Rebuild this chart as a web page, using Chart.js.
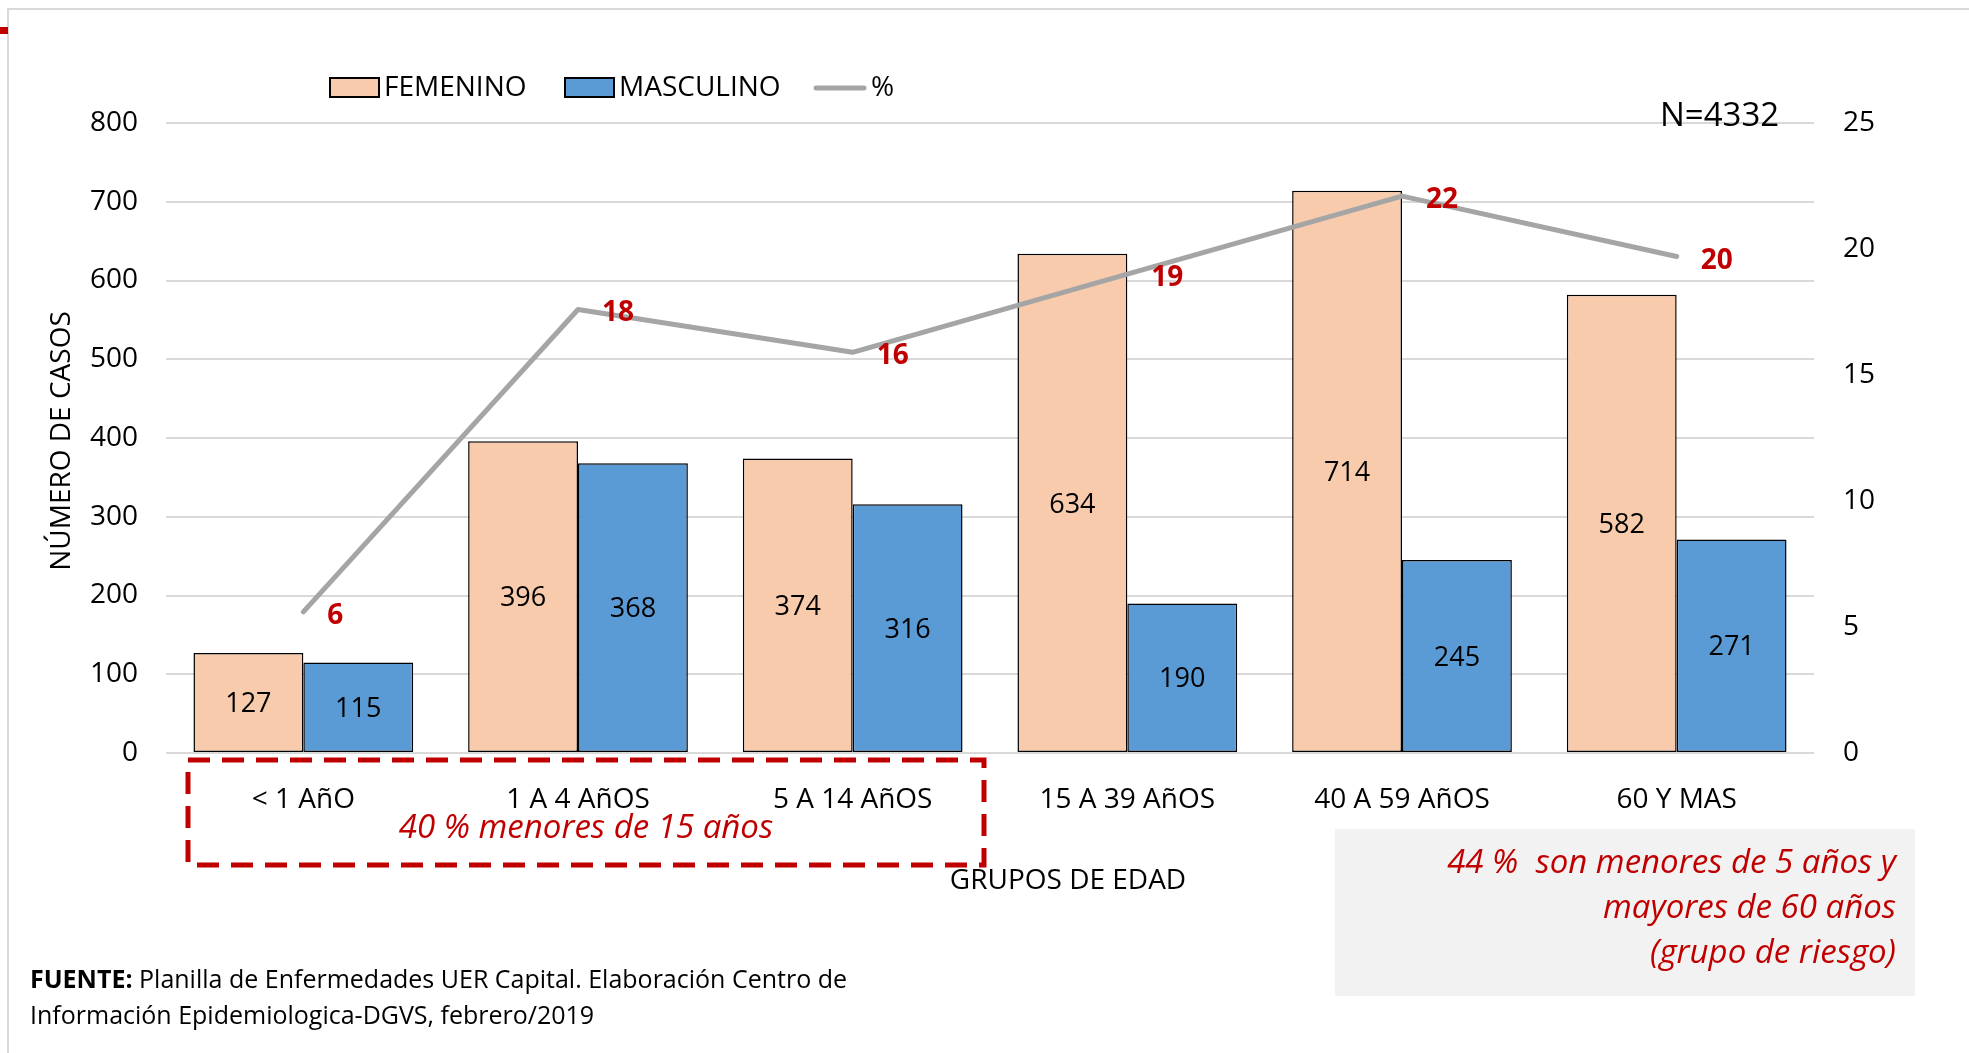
<!DOCTYPE html>
<html><head><meta charset="utf-8">
<script src="https://cdn.jsdelivr.net/npm/chart.js@4.4.0/dist/chart.umd.min.js"></script>
<style>html,body{margin:0;padding:0;background:#fff;overflow:hidden}#wrap{position:relative;width:1969px;height:1053px}</style>
</head><body><div id="wrap"><canvas id="c" width="1969" height="1053"></canvas></div>
<script>
const categories = ['< 1 AñO', '1 A 4 AñOS', '5 A 14 AñOS', '15 A 39 AñOS', '40 A 59 AñOS', '60 Y MAS'];
const femenino = [127, 396, 374, 634, 714, 582];
const masculino = [115, 368, 316, 190, 245, 271];
const porcentaje = [5.6, 17.6, 15.9, 19.0, 22.1, 19.7];
const porcentajeLabels = ['6', '18', '16', '19', '22', '20'];
const leftTicks = [0, 100, 200, 300, 400, 500, 600, 700, 800];
const rightTicks = [0, 5, 10, 15, 20, 25];

const FONT = "'Open Sans', 'Noto Sans', sans-serif";
const RED = '#C00000';

const overlay = {
  id: 'overlay',
  afterDatasetsDraw(chart) {
    const ctx = chart.ctx;
    ctx.save();
    [0, 1].forEach(di => {
      const meta = chart.getDatasetMeta(di);
      meta.data.forEach((el, i) => {
        ctx.font = '27px ' + FONT;
        ctx.fillStyle = '#000';
        ctx.textAlign = 'center';
        ctx.textBaseline = 'middle';
        ctx.fillText(String(chart.data.datasets[di].data[i]), el.x, (el.y + el.base) / 2 + 2);
      });
    });
    const lm = chart.getDatasetMeta(2);
    lm.data.forEach((el, i) => {
      ctx.font = 'bold 28px ' + FONT;
      ctx.fillStyle = RED;
      ctx.textAlign = 'left';
      ctx.textBaseline = 'middle';
      ctx.fillText(porcentajeLabels[i], el.x + 24, el.y + 4);
    });
    ctx.restore();
  },
  afterDraw(chart) {
    const ctx = chart.ctx;
    ctx.save();
    ctx.strokeStyle = '#D9D9D9';
    ctx.lineWidth = 2;
    ctx.beginPath();
    ctx.moveTo(8, 1053); ctx.lineTo(8, 9); ctx.lineTo(1969, 9);
    ctx.stroke();
    ctx.fillStyle = RED;
    ctx.fillRect(0, 27, 8, 7);

    // legend
    ctx.textBaseline = 'middle';
    ctx.textAlign = 'left';
    ctx.font = '28px ' + FONT;
    ctx.lineWidth = 2;
    ctx.strokeStyle = '#000';
    ctx.fillStyle = '#F8CBAD';
    ctx.fillRect(330, 78, 49, 19); ctx.strokeRect(330, 78, 49, 19);
    ctx.fillStyle = '#000';
    ctx.fillText('FEMENINO', 384, 88);
    ctx.fillStyle = '#5B9BD5';
    ctx.fillRect(565, 78, 49, 19); ctx.strokeRect(565, 78, 49, 19);
    ctx.fillStyle = '#000';
    ctx.fillText('MASCULINO', 619, 88);
    ctx.strokeStyle = '#A5A5A5';
    ctx.lineWidth = 5;
    ctx.lineCap = 'round';
    ctx.beginPath(); ctx.moveTo(816, 88); ctx.lineTo(864, 88); ctx.stroke();
    ctx.fillStyle = '#000';
    ctx.fillText('%', 871, 88);

    // N
    ctx.font = '33px ' + FONT;
    ctx.textAlign = 'left';
    ctx.fillText('N=4332', 1660, 117);

    // y title
    ctx.save();
    ctx.translate(62, 441);
    ctx.rotate(-Math.PI / 2);
    ctx.textAlign = 'center';
    ctx.font = '28px ' + FONT;
    ctx.fillText('NÚMERO DE CASOS', 0, 0);
    ctx.restore();

    // x title
    ctx.textAlign = 'center';
    ctx.font = '28px ' + FONT;
    ctx.fillText('GRUPOS DE EDAD', 1068, 881);

    // dashed box
    ctx.strokeStyle = RED;
    ctx.lineWidth = 5;
    ctx.lineCap = 'butt';
    ctx.setLineDash([22, 12]);
    ctx.strokeRect(188, 760, 796, 105);
    ctx.setLineDash([]);
    ctx.fillStyle = RED;
    ctx.font = 'italic 33px ' + FONT;
    ctx.textAlign = 'center';
    ctx.fillText('40 % menores de 15 años', 586, 829);

    // gray box
    ctx.fillStyle = '#F2F2F2';
    ctx.fillRect(1335, 829, 580, 167);
    ctx.fillStyle = RED;
    ctx.font = 'italic 33px ' + FONT;
    ctx.textAlign = 'right';
    ctx.fillText('44 %  son menores de 5 años y', 1896, 864);
    ctx.fillText('mayores de 60 años', 1896, 909);
    ctx.fillText('(grupo de riesgo)', 1896, 954);

    // source
    ctx.textAlign = 'left';
    ctx.fillStyle = '#000';
    ctx.font = 'bold 25px ' + FONT;
    ctx.fillText('FUENTE:', 30, 981);
    const w = ctx.measureText('FUENTE:').width;
    ctx.font = '25px ' + FONT;
    ctx.fillText(' Planilla de Enfermedades UER Capital. Elaboración Centro de', 30 + w, 981);
    ctx.fillText('Información Epidemiologica-DGVS, febrero/2019', 30, 1017);
    ctx.restore();
  }
};

new Chart(document.getElementById('c'), {
  data: {
    labels: categories,
    datasets: [
      { type: 'bar', label: 'FEMENINO', data: femenino, backgroundColor: '#F8CBAD', borderColor: '#000', borderWidth: 1.5, borderSkipped: false, categoryPercentage: 0.8, barPercentage: 1.0, yAxisID: 'y', order: 2 },
      { type: 'bar', label: 'MASCULINO', data: masculino, backgroundColor: '#5B9BD5', borderColor: '#000', borderWidth: 1.5, borderSkipped: false, categoryPercentage: 0.8, barPercentage: 1.0, yAxisID: 'y', order: 2 },
      { type: 'line', label: '%', data: porcentaje, borderColor: '#A5A5A5', borderWidth: 5, pointRadius: 0, tension: 0, borderCapStyle: 'round', borderJoinStyle: 'round', yAxisID: 'y1', order: 0 }
    ]
  },
  options: {
    responsive: false,
    animation: false,
    devicePixelRatio: 1,
    layout: { padding: { top: 123, left: 0, right: 0, bottom: 0 } },
    plugins: { legend: { display: false }, tooltip: { enabled: false } },
    scales: {
      x: {
        grid: { display: false },
        border: { display: false },
        ticks: { color: '#000', font: { size: 28, family: FONT }, padding: 22, maxRotation: 0, autoSkip: false },
        afterFit(s) { s.height = 300; }
      },
      y: {
        position: 'left', min: 0, max: 800,
        afterBuildTicks(s) { s.ticks = leftTicks.map(v => ({ value: v })); },
        grid: { color: '#D9D9D9', lineWidth: 2, drawTicks: false },
        border: { display: false },
        ticks: { color: '#000', font: { size: 28, family: FONT }, padding: 28 },
        afterFit(s) { s.width = 166; }
      },
      y1: {
        position: 'right', min: 0, max: 25,
        afterBuildTicks(s) { s.ticks = rightTicks.map(v => ({ value: v })); },
        grid: { display: false, drawTicks: false },
        border: { display: false },
        ticks: { color: '#000', font: { size: 28, family: FONT }, padding: 29 },
        afterFit(s) { s.width = 155; }
      }
    }
  },
  plugins: [overlay]
});
</script>
</body></html>
